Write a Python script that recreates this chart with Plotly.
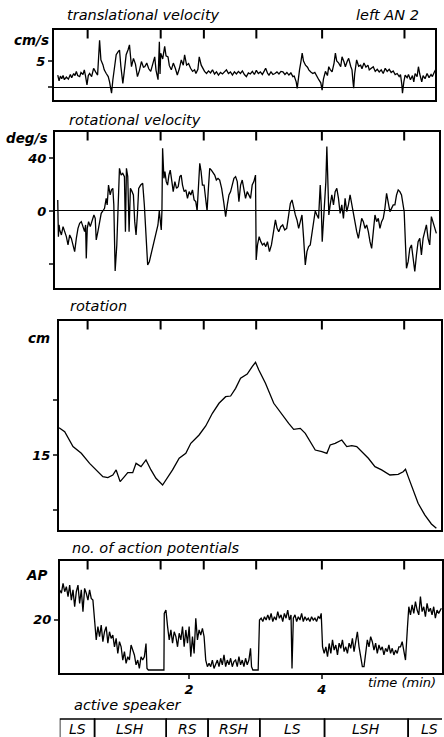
import plotly.graph_objects as go

# ---------------- data ----------------
# translational velocity (cm/s) vs time (min)
trans_pts = [
(0.02,2.3),(0.04,1.2),(0.06,2.1),(0.08,1.6),(0.10,2.2),(0.12,1.4),(0.15,1.9),(0.18,1.5),(0.21,2.4),(0.23,1.8),
(0.26,2.6),(0.28,2.2),(0.30,3.0),(0.32,2.2),(0.35,2.0),(0.37,2.8),(0.40,2.4),(0.42,3.3),(0.44,2.0),(0.46,0.4),
(0.48,2.2),(0.50,2.6),(0.53,2.0),(0.56,3.6),(0.59,2.9),(0.62,2.3),(0.65,9.0),(0.67,5.2),(0.70,4.3),(0.72,3.3),
(0.75,2.6),(0.78,2.0),(0.80,1.0),(0.83,-1.2),(0.85,1.4),(0.87,3.5),(0.90,6.2),(0.93,6.8),(0.95,7.1),(0.97,4.0),
(1.00,0.7),(1.02,2.8),(1.05,6.2),(1.08,7.2),(1.10,8.1),(1.13,3.9),(1.16,5.5),(1.19,4.4),(1.22,2.0),(1.25,3.2),
(1.28,4.9),(1.31,3.8),(1.33,3.9),(1.36,4.6),(1.39,3.5),(1.42,3.0),(1.45,4.2),(1.48,5.8),(1.50,3.2),(1.53,1.4),
(1.55,8.7),(1.56,2.5),(1.57,6.5),(1.60,5.4),(1.63,7.8),(1.65,6.0),(1.68,5.8),(1.70,4.1),(1.73,3.3),(1.76,4.6),
(1.79,3.6),(1.82,2.3),(1.85,3.5),(1.88,5.2),(1.91,4.2),(1.93,6.2),(1.96,4.2),(1.99,4.5),(2.02,3.6),(2.05,3.0),
(2.08,3.3),(2.10,2.6),(2.13,3.4),(2.15,5.8),(2.18,4.2),(2.20,3.6),(2.23,3.0),(2.26,2.6),(2.29,3.1),(2.32,2.7),
(2.35,3.3),(2.38,2.5),(2.41,2.9),(2.44,2.3),(2.47,2.8),(2.50,2.5),(2.53,3.0),(2.56,3.3),(2.59,2.6),(2.62,2.9),
(2.65,2.3),(2.68,2.9),(2.71,2.5),(2.74,3.0),(2.77,2.6),(2.80,3.1),(2.83,2.4),(2.86,2.0),(2.89,2.7),(2.92,2.5),
(2.95,3.0),(2.98,2.4),(3.01,3.2),(3.04,2.6),(3.07,2.9),(3.10,2.4),(3.13,3.1),(3.15,3.6),(3.18,2.6),(3.20,2.3),
(3.23,2.9),(3.26,2.4),(3.29,2.6),(3.32,2.9),(3.35,2.5),(3.38,3.0),(3.41,2.9),(3.44,2.4),(3.47,2.8),(3.50,2.3),
(3.53,2.7),(3.56,2.0),(3.58,2.1),(3.61,1.0),(3.625,-0.25),(3.64,2.0),(3.66,3.3),(3.68,4.8),(3.70,6.5),(3.72,5.0),
(3.75,4.2),(3.78,3.8),(3.80,3.3),(3.83,2.9),(3.86,2.6),(3.89,2.8),(3.92,2.0),(3.95,1.4),(3.98,0.8),(4.00,-0.6),
(4.02,1.5),(4.05,3.0),(4.08,2.2),(4.10,3.9),(4.12,3.4),(4.15,2.9),(4.18,4.6),(4.20,6.5),(4.22,5.0),(4.25,4.6),
(4.28,3.9),(4.30,5.8),(4.33,4.8),(4.35,3.9),(4.38,5.0),(4.40,5.5),(4.43,4.0),(4.45,3.3),(4.465,1.0),(4.475,-0.25),
(4.49,2.5),(4.52,5.2),(4.55,4.0),(4.58,4.2),(4.60,3.5),(4.63,4.6),(4.66,3.8),(4.69,4.2),(4.71,3.3),(4.74,3.6),
(4.77,3.9),(4.80,3.0),(4.83,3.4),(4.86,2.9),(4.89,3.3),(4.92,2.6),(4.95,3.6),(4.98,3.0),(5.01,3.4),(5.04,2.8),
(5.07,3.1),(5.10,2.4),(5.13,2.6),(5.16,2.0),(5.18,2.4),(5.20,0.5),(5.21,-1.2),(5.23,1.0),(5.25,2.3),(5.28,1.8),
(5.30,2.4),(5.33,1.4),(5.36,2.2),(5.38,1.0),(5.40,2.6),(5.43,2.0),(5.45,3.9),(5.47,2.5),(5.50,1.0),(5.52,2.2),
(5.55,1.6),(5.58,2.6),(5.61,1.8),(5.64,2.4),(5.66,2.0),(5.69,2.9),(5.72,3.6),
]

# rotational velocity (deg/s) vs time (min)
rotvel_pts = [
(0.02,8.4),(0.03,-19.5),(0.04,-10.6),(0.05,-14.4),(0.075,-18.2),(0.10,-11.9),(0.125,-15.7),(0.15,-19.5),(0.175,-25.8),(0.20,-18.2),
(0.225,-20.8),(0.25,-25.8),(0.275,-30.9),(0.30,-20.8),(0.325,-13.2),(0.35,-9.4),(0.375,-8.1),(0.40,-11.9),(0.425,-15.7),(0.44,-10.6),
(0.45,-36.0),(0.465,-13.2),(0.485,-8.1),(0.51,-11.9),(0.535,-6.8),(0.565,-3.0),(0.585,-5.6),(0.60,-22.0),(0.625,-15.7),(0.65,-8.1),
(0.675,-1.8),(0.70,0.0),(0.725,2.0),(0.75,9.6),(0.765,4.6),(0.785,19.7),(0.81,12.2),(0.83,16.0),(0.85,17.2),(0.865,4.6),
(0.885,-45.6),(0.91,-25.8),(0.93,7.1),(0.95,32.4),(0.975,27.3),(1.00,28.6),(1.025,26.1),(1.04,-15.7),(1.055,32.4),(1.075,26.1),
(1.095,-15.7),(1.115,17.2),(1.14,14.7),(1.16,12.2),(1.18,-8.1),(1.20,-18.2),(1.22,-3.0),(1.24,17.2),(1.27,19.7),(1.30,21.0),
(1.325,4.6),(1.35,-20.8),(1.375,-41.0),(1.40,-38.5),(1.425,-33.4),(1.46,-25.8),(1.50,-18.2),(1.53,-10.6),(1.55,0.0),(1.565,-8.1),
(1.58,-14.4),(1.59,0.0),(1.60,47.6),(1.62,24.8),(1.635,29.9),(1.655,22.3),(1.675,19.7),(1.695,27.3),(1.715,31.1),(1.74,22.3),
(1.76,14.7),(1.785,22.3),(1.81,17.2),(1.835,18.5),(1.86,26.1),(1.88,27.3),(1.90,19.7),(1.925,14.7),(1.95,16.0),(1.975,9.6),
(2.00,14.7),(2.025,12.2),(2.05,16.0),(2.075,8.4),(2.10,7.1),(2.12,0.0),(2.14,17.2),(2.16,36.2),(2.18,29.9),(2.20,19.7),
(2.225,19.7),(2.25,9.6),(2.27,0.0),(2.29,17.2),(2.31,32.4),(2.335,31.1),(2.36,28.6),(2.385,27.3),(2.41,23.5),(2.435,24.8),
(2.46,23.5),(2.49,17.2),(2.52,7.1),(2.55,-4.3),(2.575,4.6),(2.60,12.2),(2.625,14.7),(2.65,19.7),(2.675,24.8),(2.70,26.1),
(2.725,22.3),(2.75,7.1),(2.775,19.7),(2.80,23.5),(2.825,17.2),(2.85,9.6),(2.875,14.7),(2.90,12.2),(2.925,9.6),(2.95,19.7),
(2.975,22.3),(3.00,27.3),(3.01,-37.2),(3.03,-25.8),(3.055,-19.5),(3.08,-23.3),(3.105,-25.8),(3.13,-24.6),(3.155,-27.1),(3.18,-23.3),
(3.21,-30.9),(3.24,-25.8),(3.27,-15.7),(3.30,-6.8),(3.325,-13.2),(3.35,-15.7),(3.38,-11.9),(3.41,-10.6),(3.44,-14.4),(3.47,-13.2),
(3.50,-3.0),(3.525,5.8),(3.55,8.4),(3.575,2.0),(3.60,-3.0),(3.625,-6.8),(3.65,-13.2),(3.675,-8.1),(3.70,-3.0),(3.725,-20.8),
(3.75,-41.0),(3.775,-30.9),(3.80,-27.1),(3.825,-25.8),(3.85,-17.0),(3.875,-10.6),(3.90,0.0),(3.925,-3.0),(3.95,-5.6),(3.975,19.7),
(3.99,4.6),(4.005,-23.3),(4.025,-8.1),(4.045,4.6),(4.06,22.3),(4.075,48.9),(4.09,9.6),(4.105,-3.0),(4.125,4.6),(4.15,12.2),
(4.175,4.6),(4.20,14.7),(4.225,17.2),(4.25,9.6),(4.275,-1.8),(4.30,4.6),(4.325,-5.6),(4.35,9.6),(4.375,-0.5),(4.40,4.6),
(4.425,12.2),(4.45,4.6),(4.475,-3.0),(4.50,-10.6),(4.525,-15.7),(4.55,-20.8),(4.575,-13.2),(4.60,-5.6),(4.625,-8.1),(4.65,-13.2),
(4.675,-10.6),(4.70,-15.7),(4.725,-23.3),(4.75,-28.4),(4.775,-15.7),(4.80,-3.0),(4.825,-8.1),(4.85,-5.6),(4.875,-13.2),(4.90,-8.1),
(4.925,-5.6),(4.95,2.0),(4.975,13.4),(5.00,4.6),(5.025,-0.5),(5.05,2.0),(5.075,4.6),(5.10,4.6),(5.125,12.2),(5.15,16.0),
(5.175,14.7),(5.20,12.2),(5.225,4.6),(5.24,-0.5),(5.26,-25.8),(5.275,-43.5),(5.30,-38.5),(5.325,-28.4),(5.35,-25.8),(5.375,-36.0),
(5.40,-46.0),(5.425,-33.4),(5.45,-23.3),(5.475,-20.8),(5.50,-33.4),(5.525,-20.8),(5.55,-15.7),(5.575,-10.6),(5.60,-20.8),(5.625,-25.8),
(5.65,-4.3),(5.675,-8.1),(5.70,-13.2),(5.725,-17.0),
]

# rotation (cm) vs time (min)
rotation_pts = [
(0.04,17.48),(0.125,17.12),(0.25,15.76),(0.375,15.15),(0.5,14.24),(0.6,13.64),(0.7,13.03),(0.775,12.94),(0.85,13.18),(0.9,13.64),
(0.96,12.58),(1.025,13.03),(1.075,13.39),(1.15,13.39),(1.2,14.24),(1.275,13.94),(1.35,14.55),(1.425,13.64),(1.5,12.88),(1.6,12.27),
(1.65,12.73),(1.75,13.64),(1.85,14.70),(1.95,15.15),(2.025,16.06),(2.15,16.82),(2.25,17.64),(2.35,18.79),(2.45,19.70),(2.55,20.30),
(2.625,20.36),(2.7,21.06),(2.775,21.97),(2.875,22.36),(2.95,23.03),(3.0,23.42),(3.05,22.73),(3.15,21.52),(3.275,19.70),(3.4,18.64),
(3.5,17.88),(3.575,17.33),(3.675,17.42),(3.75,16.97),(3.825,16.21),(3.9,15.45),(4.0,15.30),(4.075,15.15),(4.1,15.52),(4.125,15.91),
(4.2,16.06),(4.3,16.36),(4.375,15.76),(4.45,15.85),(4.525,15.76),(4.6,15.30),(4.7,14.70),(4.8,13.94),(4.9,13.64),(5.025,13.18),
(5.15,13.24),(5.225,13.48),(5.26,13.70),(5.3,13.03),(5.375,11.82),(5.45,10.61),(5.55,9.55),(5.65,8.73),(5.725,8.33),
]

# number of action potentials vs time (min)
ap_pts = [
(0.05,31.6),(0.075,30.3),(0.10,34.2),(0.125,30.9),(0.15,32.9),(0.175,29.0),(0.20,33.5),(0.225,27.6),(0.25,31.6),(0.275,25.0),
(0.30,30.9),(0.325,33.5),(0.35,26.3),(0.375,31.6),(0.40,23.1),(0.425,32.2),(0.45,30.3),(0.475,27.6),(0.50,31.6),(0.525,28.3),
(0.55,27.6),(0.575,20.5),(0.60,12.0),(0.625,17.2),(0.65,13.3),(0.675,17.8),(0.70,11.3),(0.725,15.2),(0.75,17.2),(0.775,10.7),
(0.80,15.2),(0.825,12.6),(0.85,13.9),(0.875,9.3),(0.90,12.6),(0.925,6.7),(0.95,11.3),(0.975,9.3),(1.00,4.1),(1.025,7.4),
(1.05,2.8),(1.075,5.4),(1.10,4.1),(1.125,10.0),(1.15,8.0),(1.175,6.1),(1.20,2.2),(1.225,4.1),(1.25,0.8),(1.275,5.4),
(1.30,4.1),(1.325,5.4),(1.35,10.6),(1.365,0.8),(1.385,0.2),(1.45,0.2),(1.525,0.2),(1.62,0.2),(1.625,22.4),(1.65,23.7),
(1.675,17.2),(1.70,12.0),(1.725,15.9),(1.75,10.7),(1.775,15.2),(1.80,13.3),(1.825,9.3),(1.85,14.6),(1.875,12.0),(1.90,17.2),
(1.925,9.3),(1.95,15.9),(1.975,10.7),(2.00,17.2),(2.025,5.4),(2.05,13.3),(2.075,6.7),(2.10,20.5),(2.125,12.0),(2.15,15.9),
(2.175,13.9),(2.20,16.5),(2.225,13.3),(2.25,4.1),(2.275,1.5),(2.30,2.8),(2.325,1.5),(2.35,4.1),(2.375,0.8),(2.40,2.8),
(2.425,4.1),(2.45,1.5),(2.475,4.8),(2.50,2.2),(2.525,6.1),(2.55,1.5),(2.575,4.1),(2.60,2.2),(2.625,4.8),(2.65,1.5),
(2.675,3.5),(2.70,4.1),(2.725,1.5),(2.75,5.4),(2.775,2.2),(2.80,4.1),(2.825,1.5),(2.85,4.8),(2.875,2.2),(2.90,4.1),
(2.925,8.7),(2.94,1.5),(2.96,0.2),(3.04,0.2),(3.06,19.8),(3.085,20.5),(3.11,19.2),(3.135,21.1),(3.16,19.8),(3.185,21.8),
(3.21,19.8),(3.235,22.4),(3.26,19.2),(3.285,21.1),(3.31,19.8),(3.335,23.1),(3.36,20.5),(3.385,21.8),(3.41,19.2),(3.435,22.4),
(3.46,20.5),(3.485,23.7),(3.51,19.8),(3.535,21.8),(3.55,0.8),(3.57,20.5),(3.595,21.8),(3.62,19.2),(3.645,21.1),(3.67,19.8),
(3.695,22.4),(3.72,19.2),(3.745,21.1),(3.77,19.8),(3.795,20.5),(3.82,19.2),(3.845,21.1),(3.87,19.8),(3.895,20.5),(3.92,19.2),
(3.945,21.1),(3.97,20.5),(3.99,22.4),(4.01,9.3),(4.035,6.7),(4.06,9.3),(4.085,5.4),(4.11,10.6),(4.135,6.7),(4.16,12.0),
(4.185,8.0),(4.21,10.0),(4.235,6.1),(4.26,10.7),(4.285,8.7),(4.31,12.0),(4.335,7.4),(4.36,9.3),(4.385,6.7),(4.41,10.7),
(4.435,8.7),(4.46,12.6),(4.485,7.4),(4.51,11.3),(4.535,15.2),(4.56,9.3),(4.585,5.4),(4.61,1.5),(4.635,1.5),(4.66,8.0),
(4.685,12.0),(4.71,9.3),(4.735,13.3),(4.76,11.3),(4.785,8.0),(4.81,10.7),(4.835,6.7),(4.86,10.0),(4.885,8.0),(4.91,9.3),
(4.935,6.1),(4.96,8.7),(4.985,7.4),(5.01,10.0),(5.035,6.7),(5.06,8.7),(5.085,6.1),(5.11,8.0),(5.135,6.7),(5.16,9.3),
(5.185,9.3),(5.21,11.3),(5.235,8.0),(5.26,4.1),(5.29,17.2),(5.31,25.0),(5.335,21.8),(5.36,25.7),(5.385,22.4),(5.41,27.0),
(5.435,23.7),(5.46,21.8),(5.485,29.0),(5.51,23.1),(5.535,25.0),(5.56,21.1),(5.585,26.3),(5.61,23.1),(5.635,24.4),(5.66,21.8),
(5.685,25.0),(5.71,20.5),(5.735,23.7),(5.76,22.4),(5.80,24.4),
]

speaker_labels = ["LS", "LSH", "RS", "RSH", "LS", "LSH", "LS"]
speaker_bounds = [0.05, 0.575, 1.655, 2.285, 3.065, 4.04, 5.3, 5.95]
event_ticks = [0.47, 1.57, 2.22, 3.01, 4.0, 5.24]

# ---------------- figure ----------------
W, H = 444, 737
FONT = "DejaVu Sans"


def fx(p):
    return p / W


def fy(p):
    return 1 - p / H


# panel geometry (pixels: left, right, top, bottom) and ranges
panels = [
    dict(l=54, r=437, t=30, b=100, xr=[-0.04, 5.70], yr=[-2.5, 10.96],
         tv=[0, 5], tt=["", "5"], zl=True),
    dict(l=55, r=441, t=132, b=288, xr=[-0.025, 5.765], yr=[-58.5, 60],
         tv=[-40, 0, 40], tt=["", "0", "40"], zl=True),
    dict(l=59, r=443, t=321, b=530, xr=[0.035, 5.795], yr=[8.18, 27.18],
         tv=[10, 15, 20], tt=["", "15", ""], zl=False),
    dict(l=60, r=444, t=561, b=673, xr=[0.05, 5.81], yr=[-0.98, 42.94],
         tv=[20], tt=["20"], zl=False),
]

fig = go.Figure()

series = [trans_pts, rotvel_pts, rotation_pts, ap_pts]
for i, pts in enumerate(series):
    k = "" if i == 0 else str(i + 1)
    fig.add_trace(go.Scatter(
        x=[p[0] for p in pts], y=[p[1] for p in pts],
        mode="lines", line=dict(color="black", width=1.3),
        xaxis="x" + k, yaxis="y" + k, showlegend=False, hoverinfo="skip"))
    # event ticks: vertical line markers centred on the top border,
    # the outer half is clipped away so they hang into the panel
    top = panels[i]["yr"][1]
    fig.add_trace(go.Scatter(
        x=event_ticks, y=[top] * len(event_ticks), mode="markers",
        marker=dict(symbol="line-ns", size=12, color="black",
                    line=dict(color="black", width=2)),
        cliponaxis=True, xaxis="x" + k, yaxis="y" + k,
        showlegend=False, hoverinfo="skip"))

tickfont = dict(family=FONT, size=13, color="black", weight="bold", style="italic")
layout = {}
for i, p in enumerate(panels):
    k = "" if i == 0 else str(i + 1)
    last = (i == 3)
    layout["xaxis" + k] = dict(
        domain=[fx(p["l"]), min(1.0, fx(p["r"]))], range=p["xr"],
        anchor="y" + k, showgrid=False, zeroline=False,
        showline=True, mirror=True, linecolor="black", linewidth=1.5,
        ticks="outside" if last else "", ticklen=4, tickwidth=1.5,
        tickmode="array",
        tickvals=[2, 4] if last else [], ticktext=["2", "4"] if last else [],
        showticklabels=last, tickfont=tickfont, fixedrange=True)
    layout["yaxis" + k] = dict(
        domain=[fy(p["b"]), fy(p["t"])], range=p["yr"], anchor="x" + k,
        showgrid=False, zeroline=p["zl"], zerolinecolor="black", zerolinewidth=1.3,
        showline=True, mirror=True, linecolor="black", linewidth=1.5,
        ticks="outside", ticklen=4, tickwidth=1.5, tickmode="array",
        tickvals=p["tv"], ticktext=p["tt"], tickfont=tickfont, fixedrange=True)

ann = []


def label(text, px, py, size=14, bold=False, xanchor="left", xref="paper"):
    ann.append(dict(
        text=text, x=px if xref != "paper" else fx(px), y=fy(py),
        xref=xref, yref="paper", xanchor=xanchor, yanchor="middle",
        showarrow=False,
        font=dict(family=FONT, size=size, color="black",
                  style="italic", weight="bold" if bold else "normal")))


label("translational velocity", 65, 15, size=14.5)
label("left AN 2", 356, 15, size=14.5)
label("cm/s", 12, 40, size=13.5, bold=True)
label("rotational velocity", 67, 120, size=14.5)
label("deg/s", 4, 138, size=13.5, bold=True)
label("rotation", 68, 306, size=14.5)
label("cm", 26, 338, size=13.5, bold=True)
label("no. of action potentials", 70, 548, size=14.5)
label("AP", 24, 575, size=13.5, bold=True)
label("time (min)", 368, 682, size=13)
label("active speaker", 72, 705, size=14.5)

shapes = []
for j, name in enumerate(speaker_labels):
    x0, x1 = speaker_bounds[j], speaker_bounds[j + 1]
    shapes.append(dict(type="rect", xref="x4", yref="paper",
                       x0=x0, x1=x1, y0=-0.02, y1=fy(719),
                       line=dict(color="black", width=1.5)))
    label(name, (x0 + x1) / 2, 729, size=14, xanchor="center", xref="x4")

fig.update_layout(
    width=W, height=H, margin=dict(l=0, r=0, t=0, b=0),
    paper_bgcolor="white", plot_bgcolor="white",
    annotations=ann, shapes=shapes, showlegend=False,
    **layout)

fig.write_html("out.html", config={"displayModeBar": False})
